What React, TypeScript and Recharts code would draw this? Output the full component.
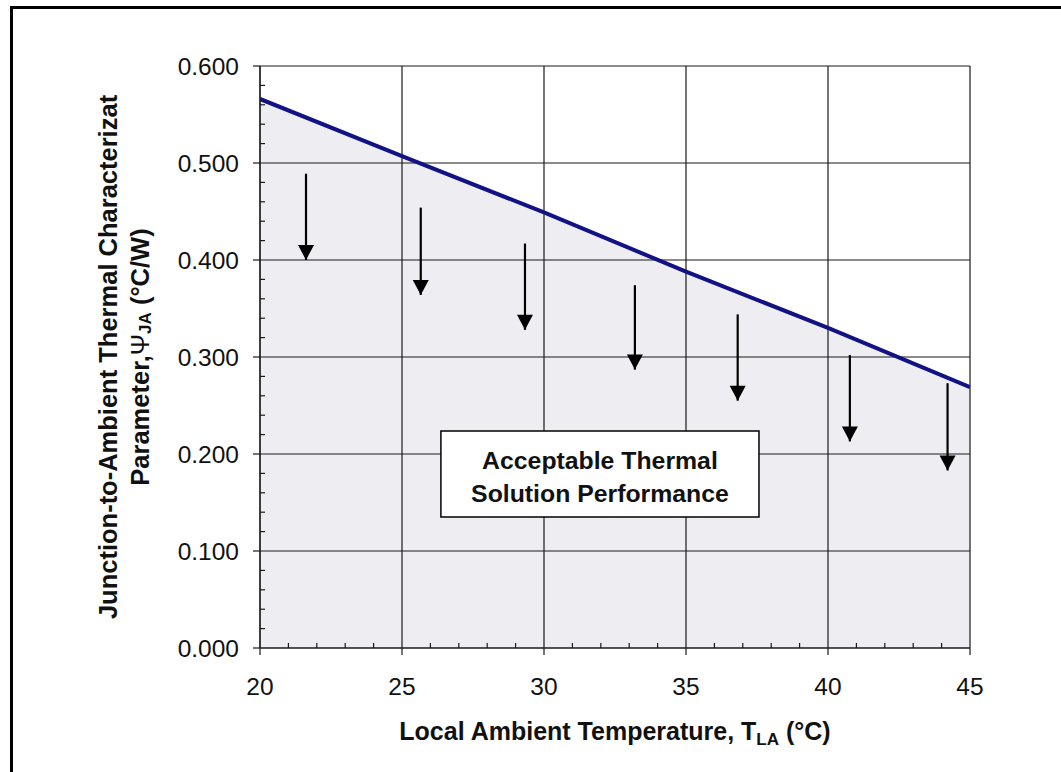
import React from "react"
import {
  ComposedChart,
  Area,
  Line,
  Scatter,
  XAxis,
  YAxis,
  ReferenceLine,
  ReferenceArea,
} from "recharts"

// thermal characterization line (x = local ambient temp, y = psi JA)
const tempC = [20, 25, 30, 35, 40, 45]
const psiJA = [0.566, 0.507, 0.449, 0.388, 0.33, 0.269]

const xMajorTicks = [20, 25, 30, 35, 40, 45]
const xMinorTicks = [21, 22, 23, 24, 26, 27, 28, 29, 31, 32, 33, 34, 36, 37, 38, 39, 41, 42, 43, 44]
const yMajorTicks = [0, 0.1, 0.2, 0.3, 0.4, 0.5, 0.6]
const yMinorTicks = [
  0.02, 0.04, 0.06, 0.08, 0.12, 0.14, 0.16, 0.18, 0.22, 0.24, 0.26, 0.28,
  0.32, 0.34, 0.36, 0.38, 0.42, 0.44, 0.46, 0.48, 0.52, 0.54, 0.56, 0.58,
]

// the downward arrows under the line
const arrowTemp = [21.62, 25.66, 29.33, 33.2, 36.82, 40.77, 44.21]
const arrowFrom = [0.489, 0.454, 0.417, 0.374, 0.344, 0.302, 0.273]
const arrowTo = [0.4, 0.364, 0.328, 0.287, 0.255, 0.213, 0.183]

const lineData = tempC.map((t, i) => ({ t, psi: psiJA[i] }))
const arrowData = arrowTemp.map((t, i) => ({ t, from: arrowFrom[i], tip: arrowTo[i] }))

const FONT = "'Liberation Sans', Arial, Helvetica, sans-serif"
const INK = "#1a1a1a"

const isMajorX = (v: number) => xMajorTicks.includes(v)
const isMajorY = (v: number) => yMajorTicks.some((m) => Math.abs(m - v) < 1e-6)

function XTick({ x, y, payload }: any) {
  const major = isMajorX(payload.value)
  return (
    <g>
      <line x1={x} x2={x} y1={y} y2={major ? y + 7 : y - 5} stroke={INK} strokeWidth={1.2} />
      {major && (
        <text x={x} y={y + 47} textAnchor="middle" fontSize={24.5} fontFamily={FONT} fill="#111">
          {payload.value}
        </text>
      )}
    </g>
  )
}

function YTick({ x, y, payload }: any) {
  const major = isMajorY(payload.value)
  return (
    <g>
      <line x1={major ? x - 7 : x} x2={major ? x : x + 5} y1={y} y2={y} stroke={INK} strokeWidth={1.2} />
      {major && (
        <text x={x - 21} y={y} textAnchor="end" dominantBaseline="central" fontSize={24.5} fontFamily={FONT} fill="#111">
          {payload.value.toFixed(3)}
        </text>
      )}
    </g>
  )
}

function XLabel({ viewBox }: any) {
  const { x, y, width } = viewBox
  return (
    <text x={x + width / 2} y={y + 92} textAnchor="middle" fontSize={25} fontWeight="bold" fontFamily={FONT} fill="#111">
      Local Ambient Temperature, T
      <tspan fontSize={17} dy={5}>LA</tspan>
      <tspan fontSize={25} dy={-5}> (°C)</tspan>
    </text>
  )
}

function YLabel({ viewBox }: any) {
  const { x, y, width, height } = viewBox
  const cy = y + height / 2
  const right = x + width
  const x1 = right - 152
  const x2 = right - 120
  return (
    <g fontSize={25.5} fontWeight="bold" fontFamily={FONT} fill="#111">
      <text x={x1} y={cy} textAnchor="middle" dominantBaseline="central" transform={`rotate(-90, ${x1}, ${cy})`}>
        Junction-to-Ambient Thermal Characterizat
      </text>
      <text x={x2} y={cy} textAnchor="middle" dominantBaseline="central" transform={`rotate(-90, ${x2}, ${cy})`}>
        Parameter,
        <tspan fontWeight="normal">Ψ</tspan>
        <tspan fontSize={17} dy={5}>JA</tspan>
        <tspan fontSize={25.5} dy={-5}> (°C/W)</tspan>
      </text>
    </g>
  )
}

function BoxLabel({ viewBox }: any) {
  const { x, y, width } = viewBox
  const cx = x + width / 2
  return (
    <g fontSize={24.8} fontWeight="bold" fontFamily={FONT} fill="#111" textAnchor="middle">
      <text x={cx} y={y + 29} dominantBaseline="central">Acceptable Thermal</text>
      <text x={cx} y={y + 62} dominantBaseline="central">Solution Performance</text>
    </g>
  )
}

function ArrowHead({ cx, cy }: any) {
  return <polygon points={`${cx - 8},${cy - 15} ${cx + 8},${cy - 15} ${cx},${cy}`} fill="#000" />
}

export default function App() {
  return (
    <div style={{ position: "absolute", left: 0, top: 0, width: 1061, height: 772, overflow: "hidden", background: "#fff" }}>
      <div
        style={{
          position: "absolute",
          left: 10,
          top: 6,
          width: 1100,
          height: 820,
          borderTop: "3px solid #000",
          borderLeft: "3px solid #000",
        }}
      />
      <div style={{ position: "absolute", left: 0, top: 0 }}>
        <ComposedChart width={1061} height={772} data={lineData} margin={{ top: 66, right: 91, bottom: 64, left: 160 }}>
          <XAxis
            dataKey="t"
            type="number"
            domain={[20, 45]}
            ticks={[...xMajorTicks, ...xMinorTicks].sort((a, b) => a - b)}
            interval={0}
            tick={<XTick />}
            tickLine={false}
            tickSize={0}
            tickMargin={0}
            height={60}
            axisLine={{ stroke: INK, strokeWidth: 1.2 }}
            allowDataOverflow
            label={<XLabel />}
          />
          <YAxis
            type="number"
            domain={[0, 0.6]}
            ticks={[...yMajorTicks, ...yMinorTicks].sort((a, b) => a - b)}
            interval={0}
            tick={<YTick />}
            tickLine={false}
            tickSize={0}
            tickMargin={0}
            width={100}
            axisLine={{ stroke: INK, strokeWidth: 1.2 }}
            allowDataOverflow
            label={<YLabel />}
          />
          <Area dataKey="psi" type="linear" stroke="none" fill="#eeedf2" fillOpacity={1} isAnimationActive={false} />
          {xMajorTicks.map((v) => (
            <ReferenceLine key={"gx" + v} x={v} stroke={INK} strokeWidth={1.2} zIndex={150} />
          ))}
          {yMajorTicks.map((v) => (
            <ReferenceLine key={"gy" + v} y={v} stroke={INK} strokeWidth={1.2} zIndex={150} />
          ))}
          <Line dataKey="psi" type="linear" stroke="#121285" strokeWidth={4} dot={false} isAnimationActive={false} />
          {arrowData.map((a) => (
            <ReferenceLine
              key={"a" + a.t}
              segment={[
                { x: a.t, y: a.from },
                { x: a.t, y: a.tip },
              ]}
              stroke="#000"
              strokeWidth={2.2}
              zIndex={460}
            />
          ))}
          <Scatter data={arrowData} dataKey="tip" shape={<ArrowHead />} isAnimationActive={false} />
          <ReferenceArea
            x1={26.37}
            x2={37.57}
            y1={0.135}
            y2={0.2237}
            fill="#fff"
            fillOpacity={1}
            stroke="#000"
            strokeWidth={1.5}
            zIndex={450}
            label={<BoxLabel />}
          />
        </ComposedChart>
      </div>
    </div>
  )
}
